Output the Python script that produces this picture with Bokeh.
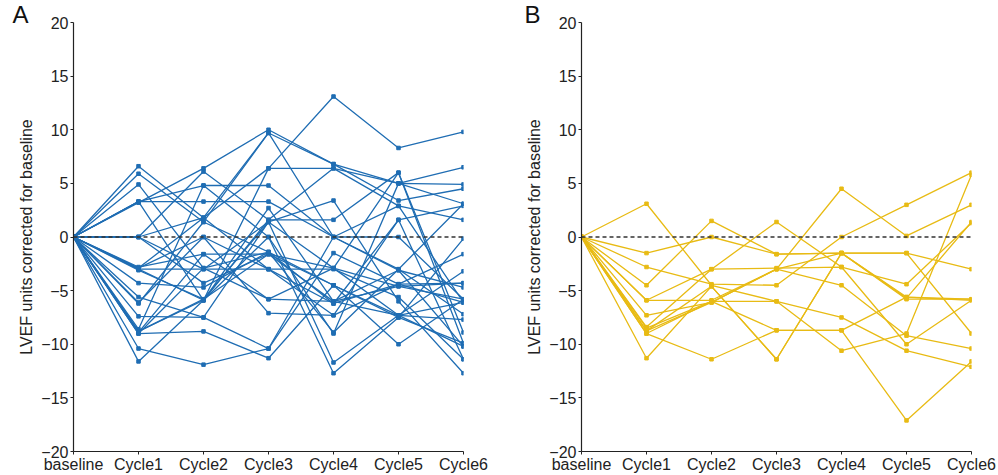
from bokeh.plotting import figure
from bokeh.layouts import row
from bokeh.models import FixedTicker, ColumnDataSource
from bokeh.embed import file_html
from bokeh.resources import INLINE

categories = ["baseline", "Cycle1", "Cycle2", "Cycle3", "Cycle4", "Cycle5", "Cycle6"]
y_ticks = [-20, -15, -10, -5, 0, 5, 10, 15, 20]
y_tick_labels = ["\u221220", "\u221215", "\u221210", "\u22125", "0", "5", "10", "15", "20"]

# Panel A: LVEF change per patient (blue)
group_a = [
    [0, 6.6, 1.8, 9.7, 6.8, 5.0, 6.5],
    [0, 5.9, 1.4, -1.4, -4.5, -7.3, -10.2],
    [0, 4.9, -2.9, -5.8, -6.0, -4.6, -4.3],
    [0, 3.3, 4.8, 4.8, 0.0, 0.0, -5.8],
    [0, 3.3, 3.3, 3.3, 0.0, -3.0, -7.2],
    [0, 3.2, 6.4, 10.0, 6.8, 3.4, 4.5],
    [0, 0.0, 6.1, 1.6, 1.6, 6.0, -8.9],
    [0, 0.0, -4.3, -1.6, -4.5, -7.5, -9.9],
    [0, 0.0, 1.8, 6.4, 6.4, 2.9, -6.1],
    [0, -2.8, -1.6, -1.6, -2.9, -7.3, -7.7],
    [0, -2.9, 0.0, -3.0, -6.2, -4.4, -1.6],
    [0, -3.0, -5.9, 2.7, -6.0, -3.1, -4.7],
    [0, -3.0, -3.0, -3.0, -3.0, -5.6, -11.4],
    [0, -4.3, -4.7, -1.4, -8.9, -3.0, 3.1],
    [0, -5.6, -7.5, -10.4, -1.5, -4.4, -6.1],
    [0, -6.1, 0.0, -7.1, -7.3, 1.6, 2.9],
    [0, -7.4, -7.5, 1.4, 3.4, -6.0, -12.7],
    [0, -8.6, 4.8, 0.0, -9.0, 5.0, 4.9],
    [0, -8.8, -5.9, 6.4, 13.1, 8.3, 9.8],
    [0, -8.8, -5.8, 1.4, -11.7, -7.3, -3.2],
    [0, -9.0, -8.8, -11.3, -4.5, -10.0, -5.8],
    [0, -10.4, -11.9, -10.4, 0.0, 2.9, 1.6],
    [0, -11.6, -5.9, 0.0, -12.7, -7.5, -0.15],
    [0, -3.1, -5.8, -1.6, -6.0, -7.3, -6.1],
    [0, -6.2, 1.4, 9.7, 0.0, -3.1, -10.2],
    [0, -8.9, -1.6, -5.8, -2.9, 6.0, -9.9],
    [0, 0.0, -3.0, 1.4, -2.9, -4.6, -5.8],
    [0, 3.3, -5.9, 1.6, 6.4, 5.0, 3.1],
    [0, -2.9, 1.8, -3.0, -7.3, -4.4, -4.3],
    [0, -9.0, -2.9, -1.4, -6.2, 1.6, -11.4],
]

# Panel B: LVEF change per patient (yellow)
group_b = [
    [0, 3.1, -4.5, -6.0, -7.5, -10.6, -12.1],
    [0, -1.5, 0.0, -1.6, -1.5, -1.5, -3.0],
    [0, -2.8, -4.4, -4.5, 0.0, 3.0, 6.0],
    [0, -4.5, 1.5, -1.6, -1.5, -5.7, 1.4],
    [0, -5.9, -5.9, -3.0, 4.5, 0.1, 3.0],
    [0, -5.9, -3.0, -2.9, -2.8, -4.4, 1.3],
    [0, -7.3, -6.1, -3.0, -4.5, -9.2, -10.4],
    [0, -8.4, -3.0, 1.4, -2.8, -10.0, -5.9],
    [0, -8.75, -6.1, -3.0, -1.5, -1.5, -9.0],
    [0, -8.75, -4.6, -11.4, -1.5, -5.8, -5.8],
    [0, -9.0, -11.4, -8.7, -8.7, -5.6, -5.9],
    [0, -11.3, -4.6, -11.4, -1.5, -5.6, -5.8],
    [0, -8.5, -6.0, -6.0, -10.6, -9.0, 5.8],
    [0, -9.0, -6.0, -8.7, -8.7, -17.1, -11.6],
]

reference_line = [0, 0]
reference_x = [0, 6]

FONT = "Liberation Sans"
TEXT_COLOR = "#222222"


def make_panel(series, color, letter, width, right_border, title_offset):
    p = figure(width=width, height=475, x_range=(0, 6), y_range=(-20, 20),
               output_backend="svg", toolbar_location=None,
               min_border_left=73, min_border_right=right_border,
               min_border_top=22, min_border_bottom=23)
    p.outline_line_color = None
    p.xgrid.grid_line_color = None
    p.ygrid.grid_line_color = None
    p.background_fill_color = "white"

    xs = list(range(len(categories)))
    for vals in series:
        src = ColumnDataSource(dict(x=xs, y=vals))
        p.line("x", "y", source=src, line_color=color, line_width=1.3)
        p.scatter("x", "y", source=src, marker="square", size=3.5,
                  fill_color=color, line_color=color)

    p.line(reference_x, reference_line, line_color="#333333",
           line_width=1.6, line_dash="4 3")

    p.xaxis.ticker = FixedTicker(ticks=xs)
    p.xaxis.major_label_overrides = {i: c for i, c in enumerate(categories)}
    p.yaxis.ticker = FixedTicker(ticks=y_ticks)
    p.yaxis.major_label_overrides = {t: l for t, l in zip(y_ticks, y_tick_labels)}
    p.xaxis.minor_tick_line_color = None
    p.yaxis.minor_tick_line_color = None
    for ax in (p.xaxis, p.yaxis):
        ax.axis_line_color = "#222222"
        ax.axis_line_width = 1.2
        ax.major_tick_line_color = "#222222"
        ax.major_tick_in = 0
        ax.major_tick_out = 3
        ax.major_label_text_font = FONT
        ax.major_label_text_font_size = "16px"
        ax.major_label_text_color = TEXT_COLOR
    p.xaxis.major_label_standoff = 1
    p.yaxis.major_label_standoff = 2
    p.yaxis.axis_label = "LVEF units corrected for baseline"
    p.yaxis.axis_label_text_font = FONT
    p.yaxis.axis_label_text_font_size = "16px"
    p.yaxis.axis_label_text_font_style = "normal"
    p.yaxis.axis_label_text_color = TEXT_COLOR
    p.yaxis.axis_label_standoff = 3

    p.title.text = letter
    p.title.text_font = FONT
    p.title.text_font_size = "24px"
    p.title.text_font_style = "normal"
    p.title.text_color = "#111111"
    p.title.align = "left"
    p.title.offset = title_offset
    p.title.standoff = -11
    return p


pa = make_panel(group_a, "#1f6db3", "A", 508, 45, -61)
pb = make_panel(group_b, "#e8bb14", "B", 490, 27, -57)

layout = row(pa, pb)
open("out.html", "w").write(file_html(layout, INLINE))
